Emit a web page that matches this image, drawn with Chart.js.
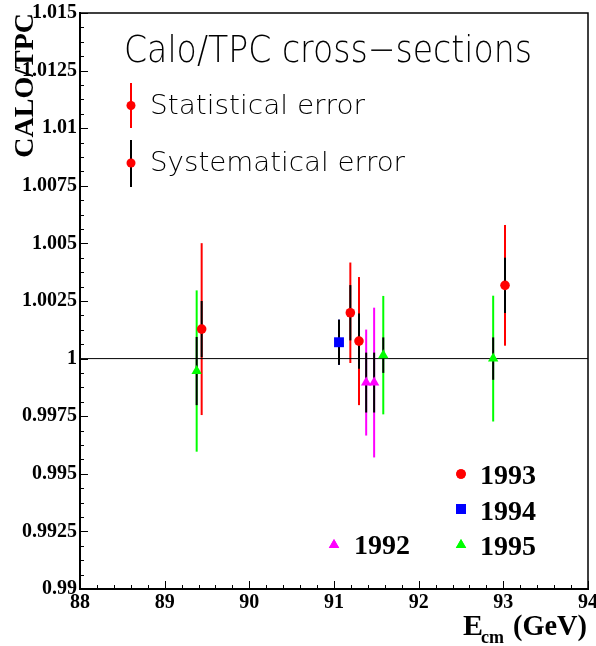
<!DOCTYPE html>
<html lang="en">
<head>
<meta charset="UTF-8">
<title>Calo/TPC cross-sections</title>
<script src="https://cdn.jsdelivr.net/npm/chart.js@4.4.1/dist/chart.umd.min.js"></script>
<style>
  html, body { margin: 0; padding: 0; background: #ffffff; }
  #chart { display: block; }
</style>
</head>
<body>
<canvas id="chart" width="596" height="646"></canvas>
<script>
// values: beam energy (GeV), ratio, stat and syst half-errors
const e1993 = [89.437, 91.193, 91.295, 93.02];
const r1993 = [1.00128, 1.00199, 1.00076, 1.00318];
const stat1993 = [0.00373, 0.00218, 0.00278, 0.00262];
const sys1993 = [0.00122, 0.0012, 0.0012, 0.0012];

const e1994 = [91.059];
const r1994 = [1.00071];
const stat1994 = [0.00098];
const sys1994 = [0.00098];

const e1995 = [89.378, 91.582, 92.88];
const r1995 = [0.99946, 1.00015, 1.0000];
const stat1995 = [0.0035, 0.00257, 0.00273];
const sys1995 = [0.00148, 0.00077, 0.00092];

const e1992 = [91.38, 91.474];
const r1992 = [0.99896, 0.99896];
const stat1992 = [0.0023, 0.00325];
const sys1992 = [0.0013, 0.0013];

const xTicks = [88, 89, 90, 91, 92, 93, 94];
const xTickLabels = ['88', '89', '90', '91', '92', '93', '94'];
const yTicks = [0.99, 0.9925, 0.995, 0.9975, 1, 1.0025, 1.005, 1.0075, 1.01, 1.0125, 1.015];
const yTickLabels = ['0.99', '0.9925', '0.995', '0.9975', '1', '1.0025', '1.005', '1.0075', '1.01', '1.0125', '1.015'];
const refLine = [1, 1];

const SERIF = '"Liberation Serif", "Times New Roman", serif';
const SANS = '"DejaVu Sans", sans-serif';

const series = [
  { label: '1993', e: e1993, r: r1993, stat: stat1993, sys: sys1993, color: '#ff0000', style: 'circle', radius: 4.8 },
  { label: '1994', e: e1994, r: r1994, stat: stat1994, sys: sys1994, color: '#0000ff', style: 'rect', radius: 7 },
  { label: '1995', e: e1995, r: r1995, stat: stat1995, sys: sys1995, color: '#00ff00', style: 'triangle', radius: 6 },
  { label: '1992', e: e1992, r: r1992, stat: stat1992, sys: sys1992, color: '#ff00ff', style: 'triangle', radius: 6 }
];

// vertical error bars: coloured statistical first, black systematic on top
const errorBars = {
  id: 'errorBars',
  beforeDatasetsDraw(chart) {
    const { ctx, scales: { x, y } } = chart;
    ctx.save();
    ctx.lineCap = 'butt';
    series.forEach(s => {
      s.e.forEach((ev, i) => {
        const px = x.getPixelForValue(ev);
        ctx.lineWidth = 2;
        ctx.strokeStyle = s.color;
        ctx.beginPath();
        ctx.moveTo(px, y.getPixelForValue(s.r[i] + s.stat[i]));
        ctx.lineTo(px, y.getPixelForValue(s.r[i] - s.stat[i]));
        ctx.stroke();
        ctx.strokeStyle = '#000';
        ctx.beginPath();
        ctx.moveTo(px, y.getPixelForValue(s.r[i] + s.sys[i]));
        ctx.lineTo(px, y.getPixelForValue(s.r[i] - s.sys[i]));
        ctx.stroke();
      });
    });
    ctx.restore();
  }
};

function fitText(ctx, text, x, baseline, width, font) {
  ctx.save();
  ctx.font = font;
  const w = ctx.measureText(text).width;
  ctx.translate(x, baseline);
  ctx.scale(width / w, 1);
  ctx.fillText(text, 0, 0);
  ctx.restore();
}

// ROOT-like frame: inside ticks, box, titles and the two legends
const frame = {
  id: 'frame',
  afterDraw(chart) {
    const { ctx, chartArea: a, scales: { x, y } } = chart;
    ctx.save();
    ctx.strokeStyle = '#000';
    ctx.lineWidth = 1;
    ctx.beginPath();
    for (let i = 0; i < xTicks.length; i++) {
      const px = Math.round(x.getPixelForValue(xTicks[i])) + 0.5;
      ctx.moveTo(px, a.bottom); ctx.lineTo(px, a.bottom - 8);
      if (i < xTicks.length - 1) {
        for (let k = 1; k < 5; k++) {
          const mx = Math.round(x.getPixelForValue(xTicks[i] + (xTicks[i + 1] - xTicks[i]) * k / 5)) + 0.5;
          ctx.moveTo(mx, a.bottom); ctx.lineTo(mx, a.bottom - 4);
        }
      }
    }
    for (let i = 0; i < yTicks.length; i++) {
      const py = Math.round(y.getPixelForValue(yTicks[i])) + 0.5;
      ctx.moveTo(a.left, py); ctx.lineTo(a.left + 8, py);
      if (i < yTicks.length - 1) {
        for (let k = 1; k < 4; k++) {
          const my = Math.round(y.getPixelForValue(yTicks[i] + (yTicks[i + 1] - yTicks[i]) * k / 4)) + 0.5;
          ctx.moveTo(a.left, my); ctx.lineTo(a.left + 4, my);
        }
      }
    }
    ctx.stroke();
    ctx.lineWidth = 1.5;
    ctx.beginPath();
    ctx.moveTo(a.left, a.top); ctx.lineTo(a.right, a.top); ctx.lineTo(a.right, a.bottom);
    ctx.stroke();

    // axis titles
    ctx.fillStyle = '#000';
    ctx.save();
    ctx.translate(33, a.top);
    ctx.rotate(-Math.PI / 2);
    ctx.textAlign = 'right';
    ctx.font = 'bold 28px ' + SERIF;
    ctx.fillText('CALO/TPC', 0, 0);
    ctx.restore();
    ctx.font = 'bold 30px ' + SERIF;
    ctx.fillText('E', 463, 635);
    ctx.font = 'bold 18px ' + SERIF;
    ctx.fillText('cm', 481, 643);
    fitText(ctx, '(GeV)', 513, 635, 74, 'bold 30px ' + SERIF);

    // error legend
    fitText(ctx, 'Calo/TPC cross\u2212sections', 124, 62, 408, '200 38px ' + SANS);
    fitText(ctx, 'Statistical error', 150, 114, 215, '200 26px ' + SANS);
    fitText(ctx, 'Systematical error', 150, 171, 255, '200 26px ' + SANS);
    ctx.lineWidth = 2;
    ctx.strokeStyle = '#ff0000';
    ctx.beginPath(); ctx.moveTo(131, 83); ctx.lineTo(131, 128); ctx.stroke();
    ctx.strokeStyle = '#000';
    ctx.beginPath(); ctx.moveTo(131, 140); ctx.lineTo(131, 187); ctx.stroke();
    ctx.fillStyle = '#ff0000';
    ctx.beginPath(); ctx.arc(131, 105.5, 4.5, 0, Math.PI * 2); ctx.fill();
    ctx.beginPath(); ctx.arc(131, 163, 4.5, 0, Math.PI * 2); ctx.fill();

    // year legend
    const spots = [[461, 474, 480, 484], [461, 509, 480, 520], [461, 545, 480, 555], [334, 545, 354, 554]];
    series.forEach((s, i) => {
      const [mx, my, tx, ty] = spots[i];
      ctx.fillStyle = s.color;
      Chart.helpers.drawPoint(ctx, { pointStyle: s.style, radius: s.radius, borderWidth: 0, rotation: 0 }, mx, my);
      ctx.fill();
      ctx.fillStyle = '#000';
      ctx.font = 'bold 28px ' + SERIF;
      ctx.fillText(s.label, tx, ty);
    });
    ctx.restore();
  }
};

const datasets = series.map(s => ({
  type: 'scatter',
  label: s.label,
  data: s.e.map((ev, i) => ({ x: ev, y: s.r[i] })),
  pointStyle: s.style,
  pointRadius: s.radius,
  backgroundColor: s.color,
  borderWidth: 0,
  order: 1
}));
datasets.push({
  type: 'line',
  label: 'unity',
  data: [{ x: xTicks[0], y: refLine[0] }, { x: xTicks[xTicks.length - 1], y: refLine[1] }],
  borderColor: '#000',
  borderWidth: 1,
  pointRadius: 0,
  fill: false,
  order: 10
});

const tickFont = { family: SERIF, weight: 'bold', size: 20 };

new Chart(document.getElementById('chart'), {
  type: 'scatter',
  data: { datasets },
  options: {
    responsive: false,
    animation: false,
    devicePixelRatio: 1,
    layout: { padding: { top: 13, right: 8, left: 0, bottom: 0 } },
    plugins: { legend: { display: false }, tooltip: { enabled: false } },
    scales: {
      x: {
        type: 'linear', min: 88, max: 94,
        afterBuildTicks: s => { s.ticks = xTicks.map(v => ({ value: v })); },
        afterFit: s => { s.height = 57; s.paddingLeft = 0; s.paddingRight = 0; },
        ticks: { autoSkip: false, maxRotation: 0, padding: 2, color: '#000', font: tickFont,
                 callback: (v, i) => xTickLabels[i] },
        grid: { display: false, drawTicks: false },
        border: { display: true, color: '#000', width: 2 }
      },
      y: {
        type: 'linear', min: 0.99, max: 1.015,
        afterBuildTicks: s => { s.ticks = yTicks.map(v => ({ value: v })); },
        afterFit: s => { s.width = 80; s.paddingTop = 0; s.paddingBottom = 0; },
        ticks: { autoSkip: false, padding: 3, color: '#000', font: tickFont,
                 callback: (v, i) => yTickLabels[i] },
        grid: { display: false, drawTicks: false },
        border: { display: true, color: '#000', width: 2 }
      }
    }
  },
  plugins: [errorBars, frame]
});
</script>
</body>
</html>
